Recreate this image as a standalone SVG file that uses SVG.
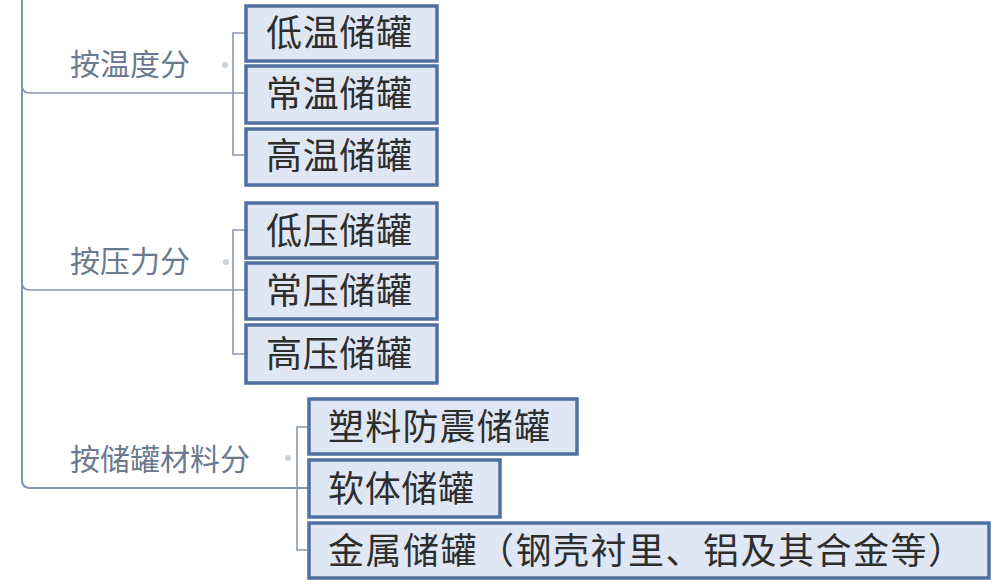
<svg xmlns="http://www.w3.org/2000/svg" width="1000" height="588" viewBox="0 0 1000 588">
<style>
.bg{fill:#ffffff}
.conn{fill:none;stroke:#8a97ad;stroke-width:1.6}
.main{fill:none;stroke:#8594b2;stroke-width:2}
.box{fill:#dfe7f5;stroke:#52709f;stroke-width:3.5}
.bt{font-family:"Liberation Sans","Noto Sans CJK SC",sans-serif;font-size:36px;fill:#2e2e2e}
.lab{font-family:"Liberation Sans","Noto Sans CJK SC",sans-serif;font-size:30px;fill:#6b7a8f}
.dot{fill:#ccd1da}
</style>
<rect class="bg" x="0" y="0" width="1000" height="588"/>
<g id="connectors">
<path class="main" d="M22,0 V480 Q22,488 30,488 H309"/>
<path class="conn" d="M22,85 Q22,93 30,93 H245"/>
<path class="conn" d="M22,282 Q22,290 30,290 H245"/>
<path class="conn" d="M245,33 H233 V155 H245"/>
<path class="conn" d="M245,230 H233 V354 H245"/>
<path class="conn" d="M309,427 H297 V550 H309"/>
<circle class="dot" cx="225" cy="65" r="3"/>
<circle class="dot" cx="226" cy="262" r="3"/>
<circle class="dot" cx="288" cy="458" r="3"/>
</g>
<g id="label-temp"><text class="lab" x="70" y="75">按温度分</text></g>
<g id="label-pressure"><text class="lab" x="70" y="272">按压力分</text></g>
<g id="label-material"><text class="lab" x="70" y="470">按储罐材料分</text></g>
<g id="n-low-temp"><rect class="box" x="246" y="6" width="191" height="55"/><text class="bt" x="266" y="46" textLength="146" lengthAdjust="spacing">低温储罐</text></g>
<g id="n-norm-temp"><rect class="box" x="246" y="66" width="191" height="57"/><text class="bt" x="266" y="107" textLength="146" lengthAdjust="spacing">常温储罐</text></g>
<g id="n-high-temp"><rect class="box" x="246" y="129" width="191" height="56"/><text class="bt" x="266" y="169" textLength="146" lengthAdjust="spacing">高温储罐</text></g>
<g id="n-low-press"><rect class="box" x="246" y="203" width="191" height="55"/><text class="bt" x="266" y="244" textLength="146" lengthAdjust="spacing">低压储罐</text></g>
<g id="n-norm-press"><rect class="box" x="246" y="263" width="191" height="56"/><text class="bt" x="266" y="304" textLength="146" lengthAdjust="spacing">常压储罐</text></g>
<g id="n-high-press"><rect class="box" x="246" y="325" width="191" height="58"/><text class="bt" x="266" y="367" textLength="146" lengthAdjust="spacing">高压储罐</text></g>
<g id="n-plastic"><rect class="box" x="309" y="399" width="268" height="55"/><text class="bt" x="328" y="440" textLength="222" lengthAdjust="spacing">塑料防震储罐</text></g>
<g id="n-soft"><rect class="box" x="309" y="460" width="191" height="57"/><text class="bt" x="328" y="502" textLength="146" lengthAdjust="spacing">软体储罐</text></g>
<g id="n-metal"><rect class="box" x="309" y="523" width="680" height="55"/><text class="bt" x="328" y="564" textLength="636" lengthAdjust="spacing">金属储罐（钢壳衬里、铝及其合金等）</text></g>
</svg>
